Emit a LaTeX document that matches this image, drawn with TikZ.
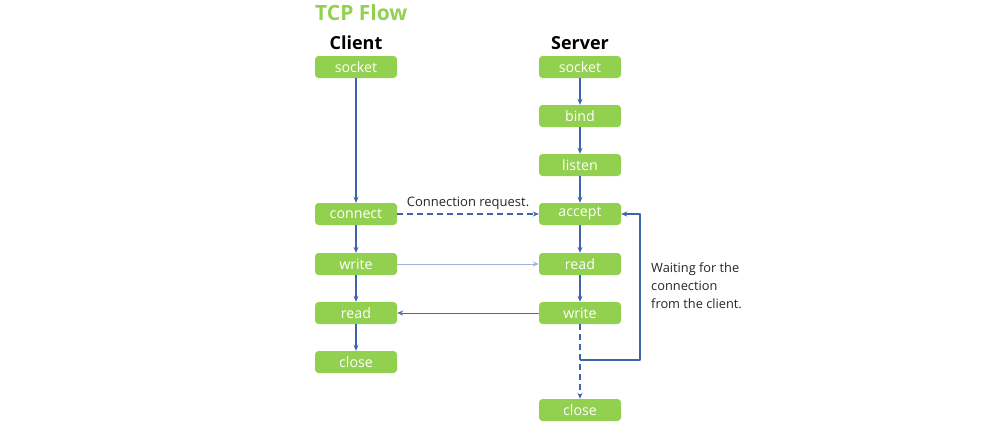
\documentclass[tikz,border=0pt]{standalone}
\usepackage{fontspec}
\setmainfont{Open Sans}
\usetikzlibrary{arrows.meta}
\definecolor{boxgreen}{HTML}{92D050}
\definecolor{linkblue}{HTML}{4064AC}
\definecolor{paleblue}{HTML}{9DB3DB}
\begin{document}
\begin{tikzpicture}[x=1pt,y=-1pt,>={Stealth[length=6pt,width=5pt]},line join=round,
  call/.style={fill=boxgreen,rounded corners=3.5pt,minimum width=82pt,minimum height=22pt,
    inner sep=0pt,text=white,font=\fontsize{14.2}{15}\selectfont},
  flow/.style={->,draw=linkblue,line width=1.1pt},
  dashes/.style={dash pattern=on 6pt off 4pt},
  head/.style={font=\bfseries\fontsize{18}{20}\selectfont}]
\useasboundingbox (0,0) rectangle (985,429);
\node[text=boxgreen,font=\bfseries\fontsize{21}{23}\selectfont,anchor=west,inner sep=0pt] (title) at (315,13) {TCP Flow};
\node[head] (client) at (356,43) {Client};
\node[head] (server) at (580,43) {Server};
% client side
\node[call] (csocket)  at (356,67)  {socket};
\node[call] (cconnect) at (356,214) {connect};
\node[call] (cwrite)   at (356,264) {write};
\node[call] (cread)    at (356,313) {read};
\node[call] (cclose)   at (356,362) {close};
% server side
\node[call] (ssocket) at (580,67)  {socket};
\node[call] (sbind)   at (580,116) {bind};
\node[call] (slisten) at (580,165) {listen};
\node[call] (saccept) at (580,214) {accept};
\node[call] (sread)   at (580,264) {read};
\node[call] (swrite)  at (580,313) {write};
\node[call] (sclose)  at (580,410) {close};
\draw[flow] (csocket) -- (cconnect);
\draw[flow] (cconnect) -- (cwrite);
\draw[flow] (cwrite) -- (cread);
\draw[flow] (cread) -- (cclose);
\draw[flow] (ssocket) -- (sbind);
\draw[flow] (sbind) -- (slisten);
\draw[flow] (slisten) -- (saccept);
\draw[flow] (saccept) -- (sread);
\draw[flow] (sread) -- (swrite);
\draw[flow,dashes] (swrite) -- (sclose);
% messages between the two
\draw[flow,dashes] (cconnect) -- node[above=0.5pt,text=black!85,font=\fontsize{13}{14}\selectfont] (req) {Connection request.} (saccept);
\draw[->,draw=paleblue,line width=1pt] (cwrite) -- (sread);
\draw[->,draw=linkblue!75!gray,line width=0.8pt] (swrite) -- (cread);
% loop back to accept
\coordinate (loopfoot) at (580,360);
\draw[flow] (loopfoot) -- (640,360) |- (saccept);
\node[anchor=north west,align=left,text=black!85,font=\fontsize{12.8}{18}\selectfont,inner sep=0pt] (wait) at (651,262) {Waiting for the\\connection\\from the client.};
\end{tikzpicture}
\end{document}
